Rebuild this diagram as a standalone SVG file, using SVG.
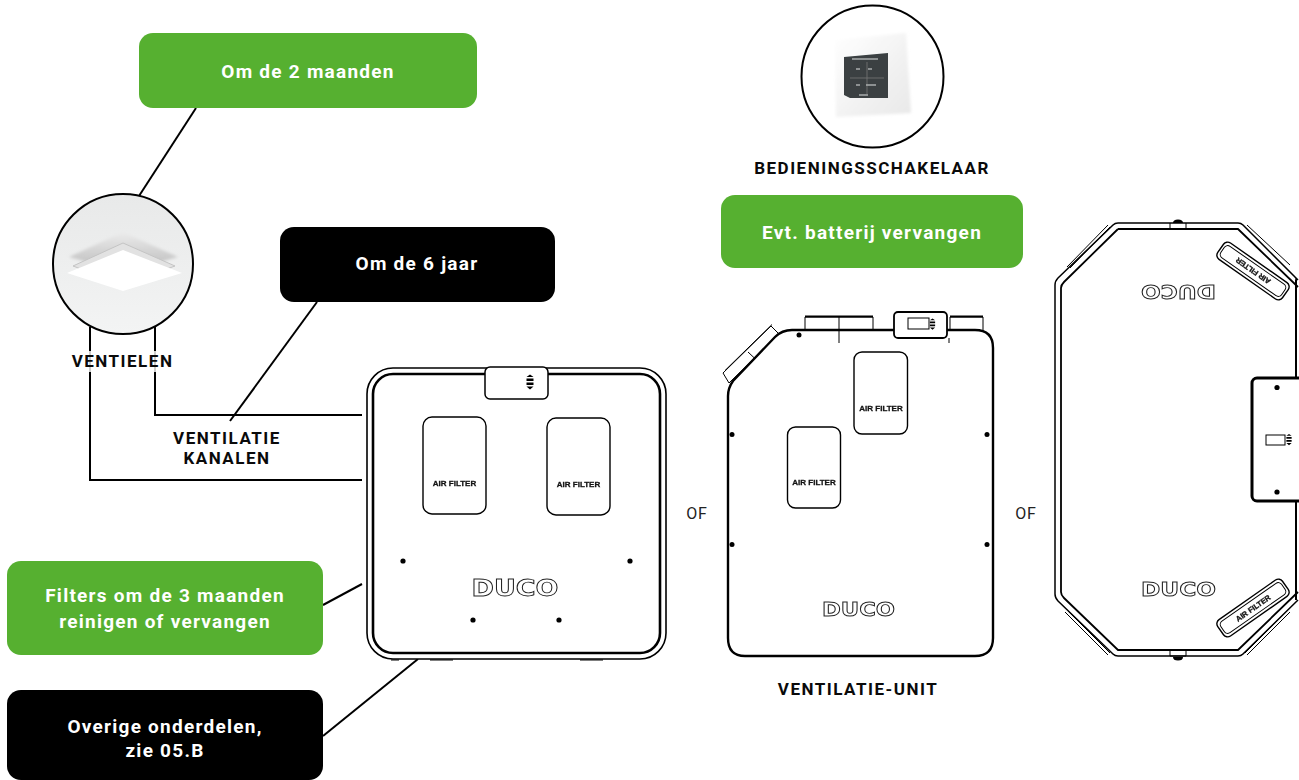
<svg xmlns="http://www.w3.org/2000/svg" width="1299" height="780" viewBox="0 0 1299 780">
<style>
.lbl{font-family:"Roboto","Liberation Sans",sans-serif;font-weight:700;font-size:17px;letter-spacing:1.5px;text-anchor:middle;fill:#0a0a0a}
.box{font-family:"Roboto","Liberation Sans",sans-serif;font-weight:700;font-size:19px;letter-spacing:1.25px;text-anchor:middle;fill:#fff}
.of{font-family:"Roboto","Liberation Sans",sans-serif;font-size:16px;letter-spacing:.8px;text-anchor:middle;fill:#222}
.af{font-family:"Liberation Sans",sans-serif;font-weight:700;font-size:8px;text-anchor:middle;fill:#111;stroke:#111;stroke-width:.3;opacity:.99}
.duco{font-family:"DejaVu Sans",sans-serif;font-weight:700;text-anchor:middle;fill:#fff;stroke:#222;stroke-width:.9;opacity:.99}
.green{fill:#56b030}.black{fill:#000}
.ln{fill:none;stroke:#000;stroke-width:2}
.th{fill:none;stroke:#000;stroke-width:1}
.flt{fill:#fff;stroke:#000;stroke-width:1.4}
.dot{fill:#000}
</style>
<defs>
<linearGradient id="vg" x1="0" y1="0" x2="0" y2="1"><stop offset="0" stop-color="#e8e9e9"/><stop offset="1" stop-color="#f3f4f4"/></linearGradient>
<linearGradient id="sh" x1="0" y1="0" x2="0" y2="1"><stop offset="0" stop-color="#ececec"/><stop offset="1" stop-color="#b8b8b8"/></linearGradient>
<linearGradient id="pn" x1="0" y1="0" x2="1" y2="1"><stop offset="0" stop-color="#ffffff"/><stop offset="1" stop-color="#e8e8e8"/></linearGradient>
<filter id="bl" x="-20%" y="-20%" width="140%" height="140%"><feGaussianBlur stdDeviation="1.5"/></filter>
<filter id="bl2" x="-20%" y="-20%" width="140%" height="140%"><feGaussianBlur stdDeviation=".7"/></filter>
<path id="arrows" d="M-3.500-5L0-7.500L3.500-5ZM-3.500-3.500H3.500V-1H-3.500ZM-3.500 .5H3.500V3H-3.500ZM-3.500 4.500L0 7.500L3.500 4.500Z" fill="#000"/>
</defs>

<g id="connectors">
<path class="ln" d="M196 108L139 196"/>
<path class="ln" d="M90 327V480H362"/>
<path class="ln" d="M155 327V415H362"/>
<path class="ln" d="M317 302L230 421"/>
<path class="ln" d="M323 605L362 584"/>
<path class="ln" d="M323 736L418 659"/>
</g>

<g id="node-ventielen">
<circle cx="123" cy="264" r="70" fill="url(#vg)" stroke="#000" stroke-width="2"/>
<path d="M69 257L123 232L178 257L123 272Z" fill="url(#sh)" filter="url(#bl)"/>
<path d="M73 266L123 243L175 266L123 285Z" fill="#e2e2e2" stroke="#c4c4c4" stroke-width="1"/>
<path d="M67 273L123 250L182 273L123 291Z" fill="#fff"/>
<rect x="68" y="351" width="110" height="21" fill="#fff" fill-opacity=".8"/>
<text class="lbl" x="122.500" y="367">VENTIELEN</text>
</g>

<g id="node-om-2-maanden">
<rect class="green" x="139" y="33" width="338" height="75" rx="14"/>
<text class="box" x="308" y="78">Om de 2 maanden</text>
</g>

<g id="node-om-6-jaar">
<rect class="black" x="280" y="227" width="275" height="75" rx="14"/>
<text class="box" x="417" y="270">Om de 6 jaar</text>
</g>

<g id="node-ventilatie-kanalen">
<text class="lbl" x="227" y="444">VENTILATIE</text>
<text class="lbl" x="227" y="464">KANALEN</text>
</g>

<g id="node-filters">
<rect class="green" x="7" y="561" width="316" height="94" rx="14"/>
<text class="box" x="165" y="602">Filters om de 3 maanden</text>
<text class="box" x="165" y="628">reinigen of vervangen</text>
</g>

<g id="node-overige">
<rect class="black" x="7" y="690" width="316" height="90" rx="14"/>
<text class="box" x="165" y="733">Overige onderdelen,</text>
<text class="box" x="165" y="757">zie 05.B</text>
</g>

<g id="node-unit-1">
<path class="th" d="M391 660H399M430 660H453M580 660H603"/>
<rect x="367" y="368" width="299" height="291" rx="26" fill="#fff" stroke="#000" stroke-width="1.6"/>
<rect x="373" y="374" width="287" height="279" rx="20" fill="#fff" stroke="#000" stroke-width="2.600"/>
<rect x="485" y="367" width="63" height="32" rx="5" fill="#fff" stroke="#000" stroke-width="1.500"/>
<use href="#arrows" x="530" y="382"/>
<rect class="flt" x="423" y="417" width="63" height="97" rx="9"/>
<rect class="flt" x="547" y="418" width="63" height="97" rx="9"/>
<text class="af" x="454.500" y="486">AIR FILTER</text>
<text class="af" x="578.500" y="487">AIR FILTER</text>
<circle class="dot" cx="403" cy="561" r="2.600"/><circle class="dot" cx="630" cy="561" r="2.600"/>
<circle class="dot" cx="473" cy="620" r="2.600"/><circle class="dot" cx="559" cy="620" r="2.600"/>
<text class="duco" x="515" y="596" font-size="23" textLength="87" lengthAdjust="spacingAndGlyphs">DUCO</text>
</g>

<g id="node-of-1"><text class="of" x="697" y="519">OF</text></g>

<g id="node-bedieningsschakelaar">
<circle cx="872.500" cy="76.500" r="71" fill="#fff" stroke="#000" stroke-width="2"/>
<path d="M835 40L906 33L911 113L836 117Z" fill="url(#pn)" filter="url(#bl)"/>
<path d="M844 57L888 53V98L850 98L844 95Z" fill="#3a4042" filter="url(#bl2)"/>
<path d="M850 78H884M867 62V94" stroke="#777" stroke-width=".8" fill="none" filter="url(#bl2)"/>
<path d="M856 69h4M868 69h4M856 85h4M866 85h10M859 95h9M852 59h26" stroke="#a8acac" stroke-width="1.300" fill="none" filter="url(#bl2)"/>
<text class="lbl" x="872" y="174">BEDIENINGSSCHAKELAAR</text>
</g>

<g id="node-batterij">
<rect class="green" x="721" y="195" width="302" height="73" rx="14"/>
<text class="box" x="872" y="239">Evt. batterij vervangen</text>
</g>

<g id="node-unit-2">
<path class="th" d="M805 330V317H873V330M839 317V343M950 330V317H983V330M949 330V343"/>
<path d="M805 316.500H873M950 316.500H983" stroke="#000" stroke-width="2" fill="none"/>
<path d="M723 373L771 326L779 334L729 383Z" fill="#fff" stroke="#000" stroke-width="1"/>
<path class="th" d="M725 370.500L772 324.500M748 352L765 368"/>
<path d="M728 396Q728 388 733 381L775 337Q782 330 792 330H975Q993 330 993 348V638Q993 656 975 656H745Q728 656 728 638Z" fill="#fff" stroke="#000" stroke-width="2.400"/>
<rect x="894" y="312" width="53" height="26" rx="4" fill="#fff" stroke="#000" stroke-width="1.800"/>
<rect x="908" y="318" width="21" height="11" fill="#fff" stroke="#000" stroke-width="1"/>
<use href="#arrows" transform="translate(932.500 324) scale(.75)"/>
<path class="th" d="M839 330V343M949 338V343" stroke="#333"/>
<rect class="flt" x="854" y="352" width="53.500" height="82" rx="8"/>
<rect class="flt" x="787.500" y="427" width="53" height="81" rx="8"/>
<text class="af" x="881" y="411">AIR FILTER</text>
<text class="af" x="814" y="485">AIR FILTER</text>
<circle class="dot" cx="799" cy="335" r="2.500"/>
<circle class="dot" cx="732" cy="434.500" r="2.500"/><circle class="dot" cx="987" cy="434.500" r="2.500"/>
<circle class="dot" cx="732" cy="544.500" r="2.500"/><circle class="dot" cx="987" cy="544.500" r="2.500"/>
<text class="duco" x="858.500" y="616" font-size="19" textLength="73" lengthAdjust="spacingAndGlyphs">DUCO</text>
<text class="lbl" x="858" y="695">VENTILATIE-UNIT</text>
</g>

<g id="node-of-2"><text class="of" x="1026" y="519">OF</text></g>

<g id="node-unit-3">
<path class="th" d="M1067 267L1108 225M1070 268L1110 227M1247 225L1290 265M1065 612L1108 655M1068 611L1110 653M1247 655L1290 612M1245 653L1288 610"/>
<path d="M1170 223V229H1186V223" class="th"/>
<path d="M1173 223Q1173 219.500 1178 219.500Q1183 219.500 1183 223Z" fill="#000"/>
<path d="M1173 657Q1173 660.500 1178 660.500Q1183 660.500 1183 657Z" fill="#000"/>
<path d="M1170 650V656H1186V650" class="th"/>
<path d="M1296 378V278Q1297 279 1298 280L1243 225Q1241 223 1238 223H1118Q1115 223 1113 225L1058 278Q1055 281 1055 285V594Q1055 598 1058 601L1113 654Q1115 656 1118 656H1238Q1241 656 1243 654L1298 600" fill="none" stroke="#000" stroke-width="1.500"/>
<path d="M1118 229H1238L1298 287M1118 229L1064 282Q1061 285 1061 288V592Q1061 595 1064 598L1118 650H1238L1298 592" fill="none" stroke="#000" stroke-width="1.800"/>
<path d="M1296 378V280M1296 501V600" stroke="#000" stroke-width="2" fill="none"/>
<rect x="1252" y="378" width="60" height="123" rx="5" fill="#fff" stroke="#000" stroke-width="3"/>
<circle class="dot" cx="1277" cy="387.500" r="2.600"/><circle class="dot" cx="1277" cy="492" r="2.600"/>
<rect x="1266" y="435" width="19" height="10" fill="#fff" stroke="#000" stroke-width="1"/>
<use href="#arrows" transform="translate(1289 439.500) scale(.75)"/>
<g transform="translate(1253 271) rotate(215)">
<rect x="-39.500" y="-10" width="79" height="20" rx="5" fill="#fff" stroke="#000" stroke-width="1.400"/>
<rect x="-37" y="-7" width="74" height="14" rx="4" fill="#fff" stroke="#000" stroke-width="1"/>
<text class="af" x="0" y="2.800" style="font-size:7.500px">AIR FILTER</text>
</g>
<g transform="translate(1253 608) rotate(-35)">
<rect x="-39.500" y="-10" width="79" height="20" rx="5" fill="#fff" stroke="#000" stroke-width="1.400"/>
<rect x="-37" y="-7" width="74" height="14" rx="4" fill="#fff" stroke="#000" stroke-width="1"/>
<text class="af" x="0" y="2.800" style="font-size:7.500px">AIR FILTER</text>
</g>
<text class="duco" transform="translate(1178.500 284.500) rotate(180)" font-size="19" textLength="75" lengthAdjust="spacingAndGlyphs">DUCO</text>
<text class="duco" x="1178.500" y="596" font-size="19" textLength="75" lengthAdjust="spacingAndGlyphs">DUCO</text>
</g>
</svg>
